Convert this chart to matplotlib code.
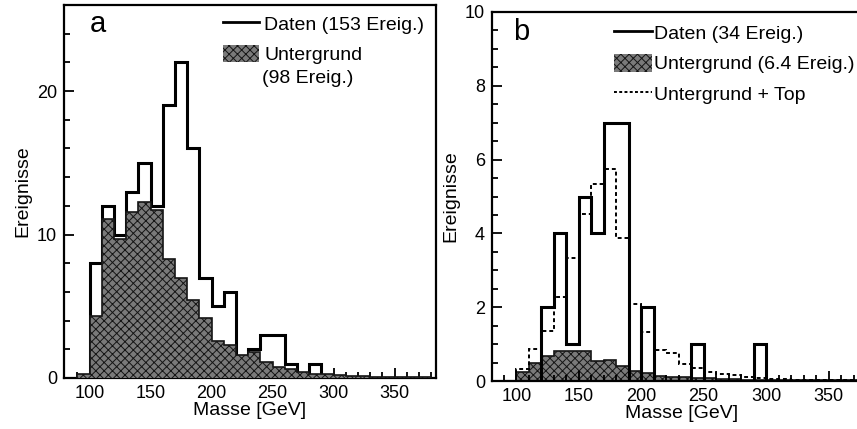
import numpy as np
import matplotlib
matplotlib.use("Agg")
import matplotlib.pyplot as plt
from matplotlib.lines import Line2D
from matplotlib.patches import Patch

plt.rcParams['font.family'] = ['Liberation Sans', 'DejaVu Sans']
plt.rcParams['hatch.linewidth'] = 0.7

# bin edges in GeV (10 GeV bins)
edges = np.arange(90, 390, 10)

# panel a: events per bin
daten_a = [0, 8, 12, 10, 13, 15, 12, 19, 22, 16, 7, 5, 6, 1, 2, 3, 3, 1, 0, 1,
           0, 0, 0, 0, 0, 0, 0, 0, 0]
untergrund_a = [0.25, 4.35, 11.1, 9.7, 11.6, 12.25, 11.7, 8.3, 7.0, 5.45, 4.2, 2.6,
                2.3, 1.6, 1.8, 1.1, 0.75, 0.6, 0.4, 0.3, 0.25, 0.2, 0.15, 0.12,
                0.1, 0.08, 0.07, 0.05, 0.04]

# panel b
daten_b = [0, 0, 0, 2, 4, 1, 5, 4, 7, 7, 0, 2, 0, 0, 0, 1, 0, 0, 0, 0, 1,
           0, 0, 0, 0, 0, 0, 0, 0]
untergrund_b = [0, 0.25, 0.5, 0.68, 0.8, 0.8, 0.82, 0.55, 0.57, 0.4, 0.28, 0.22,
                0.13, 0.12, 0.1, 0.08, 0.07, 0.05, 0.05, 0.04, 0.03, 0.03, 0.02,
                0.02, 0.02, 0.02, 0.02, 0.02, 0.02]
ug_top_b = [0, 0.32, 0.86, 1.36, 2.27, 3.32, 4.52, 5.33, 5.75, 3.88, 2.09, 1.34,
            0.85, 0.75, 0.45, 0.35, 0.25, 0.2, 0.17, 0.12, 0.08, 0.06, 0.05,
            0.04, 0.03, 0.03, 0.02, 0.02, 0.02]

xticks = [100, 150, 200, 250, 300, 350]
shade_face = '#7a7a7a'
shade_edge = '#151515'
shade_hatch = 'xxxx'

fig = plt.figure(figsize=(8.57, 4.29), dpi=100)
axa = fig.add_axes([64/857, 1-378/429, 372/857, 373/429])
axb = fig.add_axes([492/857, 1-381/429, 379/857, 369/429])


def style(ax):
    for s in ax.spines.values():
        s.set_linewidth(1.6)
    ax.tick_params(which='both', direction='in', top=False, right=False,
                   labelsize=13, width=1.3)
    ax.tick_params(which='major', length=7, pad=5)
    ax.tick_params(which='minor', length=4)
    ax.set_xticks(xticks)
    ax.set_xticks(np.arange(90, 390, 10), minor=True)
    ax.set_xlabel('Masse [GeV]', fontsize=14, labelpad=0)
    ax.set_ylabel('Ereignisse', fontsize=14, labelpad=4)


# ---- panel a
axa.stairs(daten_a, edges, color='black', lw=2.2, zorder=2)
axa.stairs(untergrund_a, edges, fill=True, facecolor=shade_face,
           edgecolor=shade_edge, hatch=shade_hatch, lw=0, zorder=3)
axa.stairs(untergrund_a, edges, color=shade_edge, lw=1.2, zorder=3)
axa.set_xlim(79, 384)
axa.set_ylim(0, 26)
axa.set_yticks([0, 10, 20])
axa.set_yticks(np.arange(0, 26, 2), minor=True)
style(axa)
axa.text(0.07, 0.95, 'a', transform=axa.transAxes, fontsize=21,
         ha='left', va='center')
ha = [Line2D([], [], color='black', lw=2),
      Patch(facecolor=shade_face, edgecolor=shade_edge, hatch=shade_hatch, lw=0)]
axa.legend(ha, ['Daten (153 Ereig.)', 'Untergrund'],
           loc='upper right', bbox_to_anchor=(1.0, 1.005), frameon=False,
           fontsize=14, handlelength=1.9, handleheight=1.0,
           handletextpad=0.25, labelspacing=0.55, borderaxespad=0.2)
axa.text(0.533, 0.804, '(98 Ereig.)', transform=axa.transAxes, fontsize=14,
         ha='left', va='center')

# ---- panel b
axb.stairs(untergrund_b, edges, fill=True, facecolor=shade_face,
           edgecolor=shade_edge, hatch=shade_hatch, lw=0, zorder=1)
axb.stairs(untergrund_b, edges, color=shade_edge, lw=1.2, zorder=1)
axb.stairs(ug_top_b, edges, color='black', lw=1.4, ls=(0, (2, 1.5)), zorder=2)
axb.stairs(daten_b, edges, color='black', lw=2.2, zorder=3)
axb.set_xlim(80.5, 384)
axb.set_ylim(0, 10)
axb.set_yticks(np.arange(0, 11, 2))
axb.set_yticks(np.arange(0, 10.5, 0.5), minor=True)
style(axb)
axb.text(0.055, 0.945, 'b', transform=axb.transAxes, fontsize=21,
         ha='left', va='center')
hb = [Line2D([], [], color='black', lw=2),
      Patch(facecolor=shade_face, edgecolor=shade_edge, hatch=shade_hatch, lw=0),
      Line2D([], [], color='black', lw=1.4, ls=(0, (1.5, 1.2)))]
axb.legend(hb, ['Daten (34 Ereig.)', 'Untergrund (6.4 Ereig.)', 'Untergrund + Top'],
           loc='upper left', bbox_to_anchor=(0.29, 1.0), frameon=False,
           fontsize=14, handlelength=2.0, handleheight=1.0, handletextpad=0.1,
           labelspacing=0.57, borderaxespad=0.2)

fig.savefig('out.png', dpi=100)
